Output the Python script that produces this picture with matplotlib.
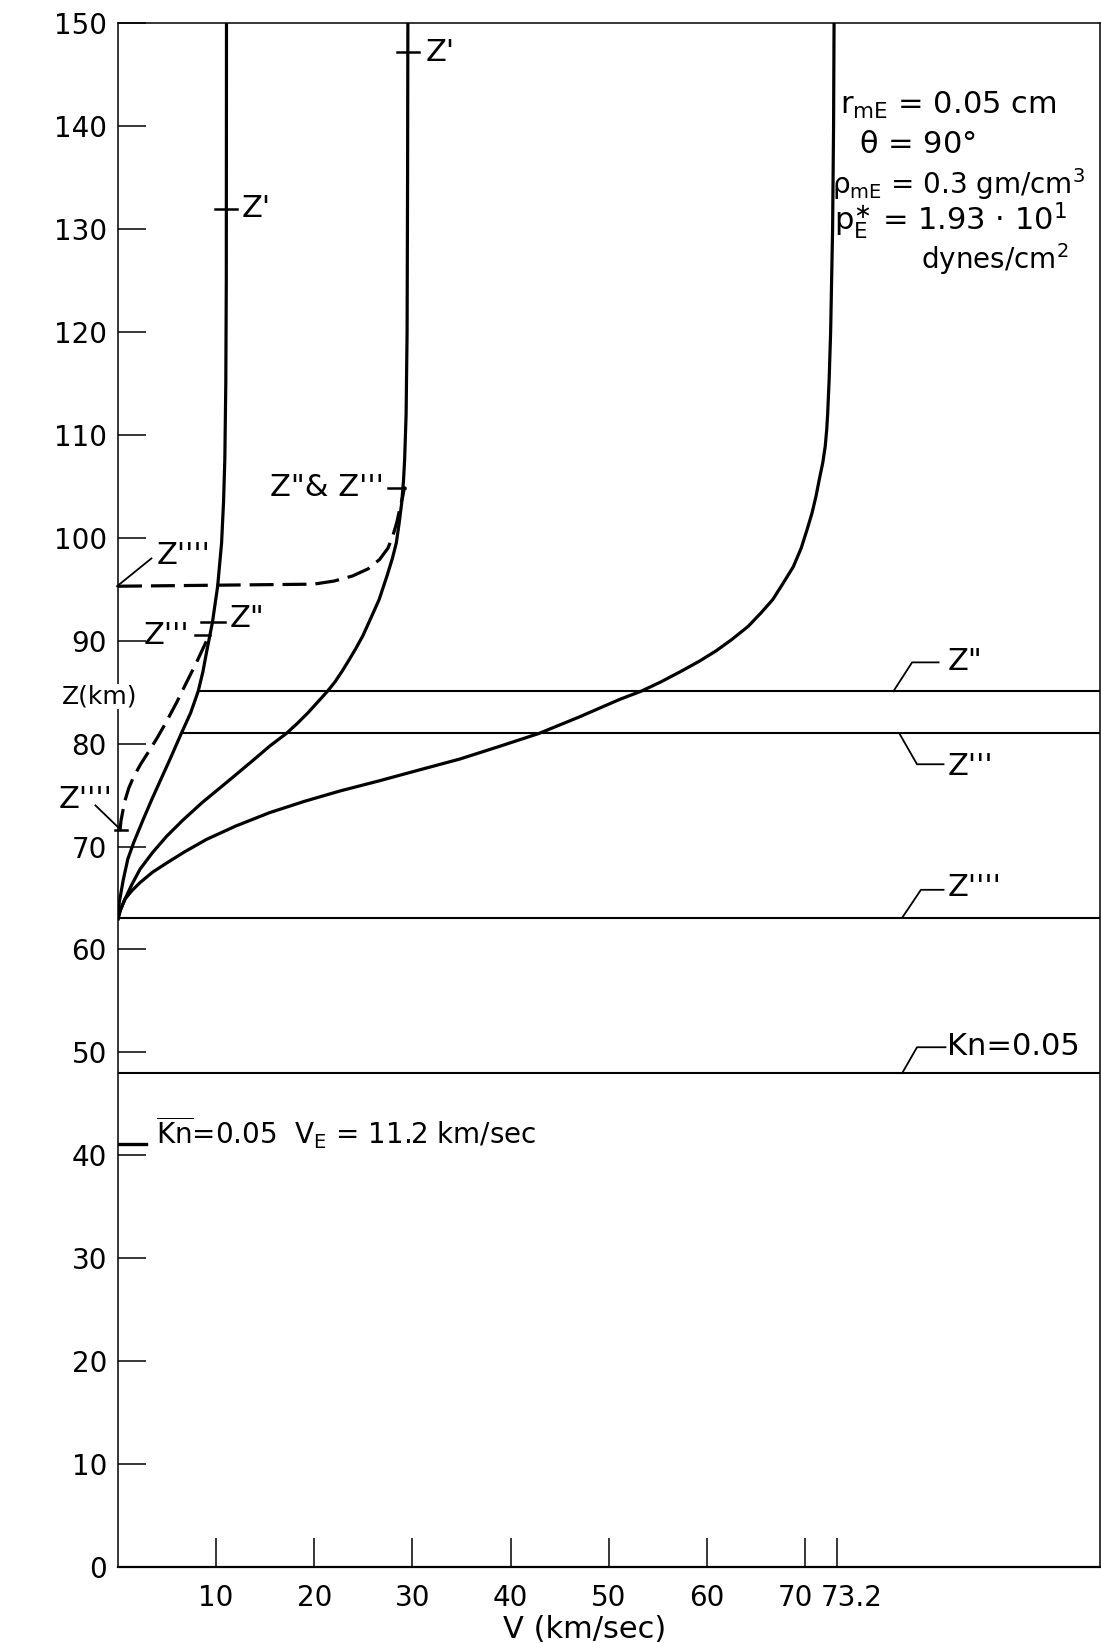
import matplotlib
matplotlib.use("Agg")
import matplotlib.pyplot as plt
from matplotlib.transforms import ScaledTranslation

# -------------------------
# DATA (V in km/sec, Z in km)
# -------------------------
# trajectory for V_E = 11.2 km/sec (asymptote ~11.05)
z_slow = [63.0, 64.6, 66.8, 68.8, 70.4, 72.6, 74.6, 76.5, 78.5, 81.0, 83.0,
          85.1, 87.0, 88.9, 91.8, 95.3, 99.5, 103.5, 107.6, 115.0, 125.0, 150.0]
v_slow = [0.0, 0.13, 0.54, 1.0, 1.6, 2.55, 3.45, 4.35, 5.3, 6.45, 7.4,
          8.17, 8.65, 9.02, 9.62, 10.15, 10.55, 10.75, 10.88, 10.98, 11.03, 11.05]

# trajectory for the ~30 km/sec case
z_mid = [63.0, 63.8, 64.9, 66.3, 67.8, 69.4, 71.0, 72.6, 74.3, 75.4, 76.5,
         78.5, 79.8, 81.0, 82.0, 83.0, 84.0, 85.05, 86.0, 87.0, 88.0, 89.2,
         90.5, 92.4, 94.0, 96.3, 98.0, 99.5, 101.5, 103.4, 105.5, 107.6,
         112.0, 120.0, 135.0, 150.0]
v_mid = [0.0, 0.25, 0.71, 1.4, 2.24, 3.5, 4.95, 6.64, 8.6, 10.0, 11.4,
         13.9, 15.5, 17.16, 18.3, 19.35, 20.3, 21.3, 22.1, 22.8, 23.45, 24.2,
         24.95, 25.85, 26.6, 27.4, 27.95, 28.35, 28.65, 28.9, 29.08, 29.2,
         29.35, 29.45, 29.5, 29.53]

# trajectory for V_E = 73.2 km/sec
z_fast = [63.0, 63.8, 64.9, 65.7, 66.5, 67.5, 68.4, 69.5, 70.7, 72.0, 73.3,
          74.4, 75.4, 76.4, 77.45, 78.5, 79.75, 81.0, 82.6, 84.3, 85.1, 86.0,
          87.0, 88.0, 89.0, 90.1, 91.4, 92.7, 94.0, 95.5, 97.2, 99.0, 100.8,
          102.4, 104.0, 105.7, 107.3, 108.9, 110.5, 112.1, 115.4, 120.0, 130.0,
          140.0, 150.0]
v_fast = [0.0, 0.2, 0.71, 1.4, 2.24, 3.5, 4.95, 6.8, 9.02, 12.0, 15.45,
          19.0, 22.6, 26.65, 30.7, 34.8, 38.9, 42.9, 47.0, 51.1, 53.3, 55.3,
          57.3, 59.2, 60.9, 62.5, 64.2, 65.5, 66.7, 67.7, 68.8, 69.6, 70.2,
          70.7, 71.1, 71.45, 71.8, 72.05, 72.2, 72.3, 72.45, 72.6, 72.8,
          72.9, 72.95]

# dashed Z'''' branches
z_dash_low = [71.5, 72.5, 73.5, 74.6, 75.7, 76.8, 78.0, 79.2, 80.5, 82.0,
              84.0, 86.0, 87.9, 90.0, 90.6]
v_dash_low = [0.2, 0.3, 0.5, 0.75, 1.1, 1.6, 2.3, 3.1, 3.95, 4.85,
              5.97, 7.0, 8.0, 9.02, 9.25]
z_dash_up = [95.3, 95.4, 95.5, 95.8, 96.3, 97.0, 97.9, 99.0, 100.2, 101.5,
             102.8, 104.0, 105.0]
v_dash_up = [0.0, 10.0, 19.9, 22.0, 23.9, 25.5, 26.65, 27.5, 28.0, 28.4,
             28.7, 29.0, 29.2]

# reference altitudes
z_two = 85.1      # Z''
z_three = 81.0    # Z'''
z_four = 63.1     # Z''''
z_kn = 48.0       # Kn = 0.05

y_ticks = list(range(0, 151, 10))
x_ticks = [10, 20, 30, 40, 50, 60, 70, 73.2]
x_tick_labels = ["10", "20", "30", "40", "50", "60", "70", "73.2"]

# -------------------------
# FIGURE
# -------------------------
plt.rcParams["font.family"] = ["DejaVu Sans"]
plt.rcParams["mathtext.default"] = "regular"

fig = plt.figure(figsize=(11.01, 16.43), dpi=100)
ax = fig.add_axes([0.1072, 0.0463, 0.8915, 0.9395])
ax.set_xlim(0, 100)
ax.set_ylim(0, 150)

for side, lw in [("left", 1.1), ("right", 1.1), ("top", 1.1), ("bottom", 1.6)]:
    ax.spines[side].set_linewidth(lw)

ax.set_yticks(y_ticks)
ax.set_yticklabels([str(t) for t in y_ticks])
ax.set_xticks(x_ticks)
ax.set_xticklabels(x_tick_labels)
ax.tick_params(axis="y", direction="in", length=20, width=1.1, pad=8, labelsize=20)
ax.tick_params(axis="x", direction="in", length=21, width=1.1, pad=12, labelsize=20)

# nudge the crowded 70 / 73.2 labels apart
xlabels = ax.get_xticklabels()
xlabels[6].set_transform(xlabels[6].get_transform() +
                         ScaledTranslation(-7 / 72, 0, fig.dpi_scale_trans))
xlabels[7].set_transform(xlabels[7].get_transform() +
                         ScaledTranslation(11 / 72, 0, fig.dpi_scale_trans))

TXT = dict(fontsize=20, color="black")
BIG = dict(fontsize=22, color="black")
LW = 2.3

# curves
ax.plot(v_slow, z_slow, color="black", lw=LW, solid_joinstyle="round")
ax.plot(v_mid, z_mid, color="black", lw=LW, solid_joinstyle="round")
ax.plot(v_fast, z_fast, color="black", lw=LW, solid_joinstyle="round")
ax.plot(v_dash_low, z_dash_low, color="black", lw=LW, linestyle=(0, (7.0, 2.8)))
ax.plot(v_dash_up, z_dash_up, color="black", lw=LW, linestyle=(0, (7.5, 2.8)))

# horizontal reference levels
ax.plot([8.17, 100], [z_two, z_two], color="black", lw=1.5)
ax.plot([6.45, 100], [z_three, z_three], color="black", lw=1.5)
ax.plot([0, 100], [z_four, z_four], color="black", lw=1.5)
ax.plot([0, 100], [z_kn, z_kn], color="black", lw=1.5)

# right-side leader labels
ax.plot([79.0, 80.9, 83.6], [z_two, 87.9, 87.9], color="black", lw=1.3)
ax.text(84.5, 88.0, 'Z"', va="center", ha="left", **BIG)
ax.plot([79.6, 81.4, 84.1], [z_three, 78.0, 78.0], color="black", lw=1.3)
ax.text(84.5, 77.8, "Z'''", va="center", ha="left", **BIG)
ax.plot([79.9, 81.8, 84.1], [z_four, 65.8, 65.8], color="black", lw=1.3)
ax.text(84.5, 66.0, "Z''''", va="center", ha="left", **BIG)
ax.plot([79.9, 81.4, 84.3], [z_kn, 50.5, 50.5], color="black", lw=1.3)
ax.text(84.5, 50.6, "Kn=0.05", va="center", ha="left", **BIG)

# Z' markers
ax.plot([9.9, 12.1], [132.0, 132.0], color="black", lw=1.8)
ax.text(12.6, 132.0, "Z'", va="center", ha="left", **BIG)
ax.plot([28.4, 30.7], [147.2, 147.2], color="black", lw=1.8)
ax.text(31.3, 147.2, "Z'", va="center", ha="left", **BIG)

# Z'' / Z''' markers on the slow curve
ax.plot([8.5, 10.9], [91.8, 91.8], color="black", lw=1.8)
ax.text(11.4, 92.2, 'Z"', va="center", ha="left", **BIG)
ax.plot([7.8, 9.4], [90.6, 90.6], color="black", lw=1.8)
ax.text(7.3, 90.5, "Z'''", va="center", ha="right", **BIG)

# Z''&Z''' marker on the middle curve
ax.plot([27.5, 29.2], [104.8, 104.8], color="black", lw=1.8)
ax.text(27.1, 104.9, 'Z"& Z\'\'\'', va="center", ha="right", **BIG)

# Z'''' labels
ax.plot([-0.1, 3.4], [95.3, 98.0], color="black", lw=1.3, clip_on=False)
ax.text(3.9, 98.3, "Z''''", va="center", ha="left", **BIG)
ax.plot([-2.3, 0.2], [74.0, 71.7], color="black", lw=1.3, clip_on=False)
ax.plot([-0.3, 0.9], [71.6, 71.6], color="black", lw=1.8, clip_on=False)
ax.text(-0.6, 74.6, "Z''''", va="center", ha="right", **BIG)

# Kn-bar marker near 40 km
ax.plot([0, 2.9], [41.1, 41.1], color="black", lw=2.4)
ax.text(3.9, 41.1, r"$\overline{\mathrm{Kn}}$=0.05  $\mathrm{V_E}$ = 11.2 km/sec",
        va="baseline", ha="left", **TXT)

# parameter block
ax.text(73.6, 142.0, r"$\mathrm{r_{mE}}$ = 0.05 cm", va="center", ha="left", **BIG)
ax.text(75.5, 138.2, r"$\theta$ = 90°", va="center", ha="left", **BIG)
ax.text(72.7, 134.4, r"$\rho_{\mathrm{mE}}$ = 0.3 gm/cm$^3$", va="center", ha="left", **TXT)
ax.text(72.9, 130.8, r"$\mathrm{p_E^{\ast}}$ = 1.93 · 10$^{\mathrm{1}}$", va="center", ha="left", **BIG)
ax.text(81.8, 127.1, r"dynes/cm$^2$", va="center", ha="left", **TXT)

# axis titles
ax.text(-1.9, 84.6, "Z(km)", va="center", ha="center", fontsize=18, zorder=5,
        bbox=dict(facecolor="white", edgecolor="none", pad=0.5), clip_on=False)
fig.text(0.531, 0.0085, "V (km/sec)", va="center", ha="center", fontsize=22)

fig.savefig("out.png", dpi=100)
